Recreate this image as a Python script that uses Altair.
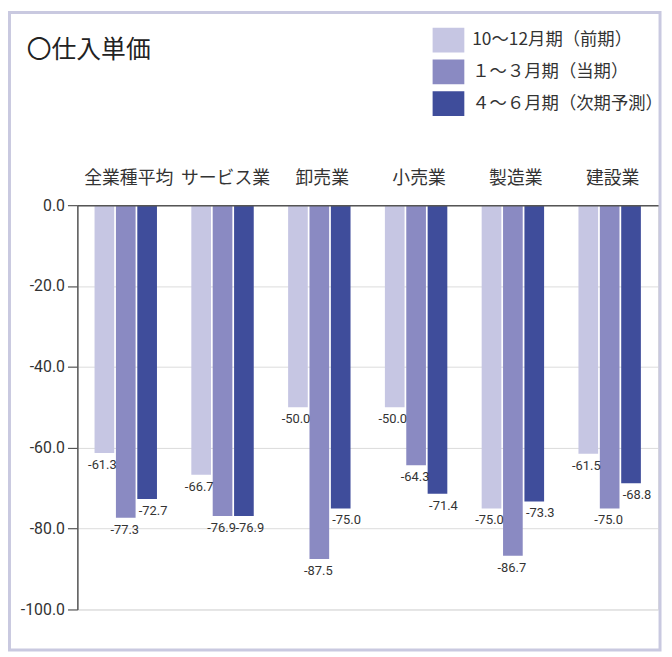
import altair as alt
import pandas as pd

categories = ["全業種平均", "サービス業", "卸売業", "小売業", "製造業", "建設業"]
periods = ["10～12月期（前期）", "１～３月期（当期）", "４～６月期（次期予測）"]
prev_q = [-61.3, -66.7, -50.0, -50.0, -75.0, -61.5]
curr_q = [-77.3, -76.9, -87.5, -64.3, -86.7, -75.0]
next_q = [-72.7, -76.9, -75.0, -71.4, -73.3, -68.8]
colors = ["#c6c6e3", "#8a8ac2", "#3f4d9b"]
y_ticks = [0, -20, -40, -60, -80, -100]
label_shift = [-2, -1, 6]

rows = []
for i, c in enumerate(categories):
    for p, vals in zip(periods, [prev_q, curr_q, next_q]):
        rows.append({"業種": c, "期間": p, "値": vals[i]})
df = pd.DataFrame(rows)

NUM_FONT = "Roboto"
JP_FONT = "Noto Sans CJK JP"

x = alt.X(
    "業種:N", sort=categories,
    scale=alt.Scale(paddingInner=0.355, paddingOuter=0.1775),
    axis=alt.Axis(orient="top", title=None, ticks=False, labelAngle=0,
                  labelFont=JP_FONT, labelFontSize=18, labelColor="#333",
                  labelPadding=18, labelOffset=3, domainColor="#555",
                  domainWidth=1.5, grid=False, zindex=1),
)
xo = alt.XOffset("期間:N", sort=periods, scale=alt.Scale(paddingInner=0.08))
y = alt.Y(
    "値:Q",
    scale=alt.Scale(domain=[-100, 0], nice=False),
    axis=alt.Axis(values=y_ticks, title=None,
                  labelExpr="replace(format(datum.value, '.1f'), '\u2212', '-')",
                  labelFont=NUM_FONT, labelFontSize=16, labelColor="#333",
                  labelPadding=3, tickSize=10, tickColor="#555", tickWidth=1.2,
                  domainColor="#555", domainWidth=1.5,
                  gridColor="#dcdcdc", gridWidth=1),
)

base = alt.Chart(df)
bars = base.mark_bar().encode(
    x=x, xOffset=xo, y=y,
    color=alt.Color(
        "期間:N", sort=periods,
        scale=alt.Scale(domain=periods, range=colors),
        legend=alt.Legend(orient="none", legendX=362, legendY=-179, title=None,
                          symbolType="M-1.28,-1H1.28V1H-1.28Z", symbolSize=625,
                          symbolStrokeWidth=0, symbolOpacity=1,
                          labelFont=JP_FONT, labelFontSize=17.5, labelColor="#333",
                          labelOffset=11.5, labelLimit=400, rowPadding=7,
                          padding=0),
    ),
)

label_layers = []
for p, s in zip(periods, label_shift):
    label_layers.append(
        base.transform_filter(alt.datum["期間"] == p)
        .transform_calculate(lbl="replace(format(datum['値'], '.1f'), '\u2212', '-')")
        .mark_text(baseline="top", dy=6, dx=s, font=NUM_FONT, fontSize=13,
                   color="#333")
        .encode(x=x, xOffset=xo, y=y, text="lbl:N")
    )

frame = alt.Chart(alt.Data(values=[{}])).mark_rect(
    fill="transparent", stroke="#c9c9e0", strokeWidth=3
).encode(
    x=alt.value(-68.5), x2=alt.value(588), y=alt.value(-194.5), y2=alt.value(449)
)

chart = alt.layer(frame, bars, *label_layers).properties(
    width=586, height=408,
    padding={"left": 70, "top": 196, "right": 6, "bottom": 44},
    autosize=alt.AutoSizeParams(type="none"),
    title=alt.TitleParams(text="〇仕入単価", anchor="start", frame="group",
                          font=JP_FONT, fontSize=25, fontWeight="normal",
                          color="#222", dx=-51, dy=52, offset=0),
).configure_view(stroke=None).configure(background="white")

chart.save("out.html", embed_options={"renderer": "svg", "actions": False})
